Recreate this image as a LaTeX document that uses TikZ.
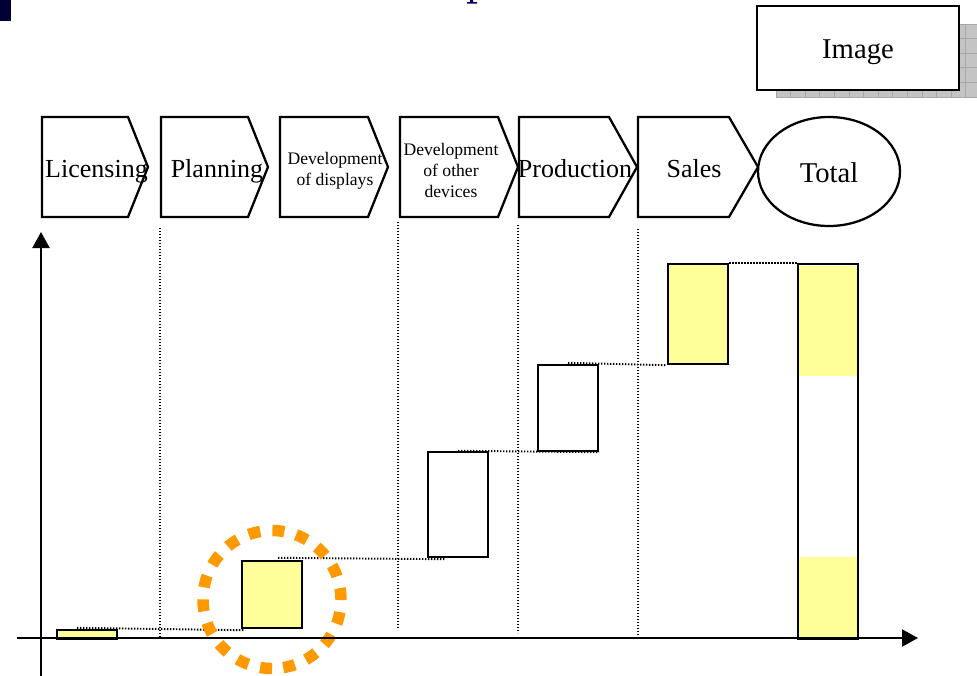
\documentclass[tikz,border=0pt]{standalone}
\usepackage{fontspec}
\setmainfont{Liberation Serif}
\usetikzlibrary{arrows.meta,backgrounds}

\definecolor{navy}{HTML}{000038}
\definecolor{barfill}{HTML}{FFFF99}
\definecolor{ringorange}{HTML}{FF9900}
\definecolor{shadowgray}{HTML}{C4C4C4}
\definecolor{shadowline}{HTML}{A8A8A8}

\tikzset{
  stageline/.style={draw=black, line width=1.7pt, line join=miter, fill=white},
  bigtext/.style={inner sep=0pt, anchor=base, font=\fontsize{19.5pt}{22pt}\selectfont},
  smalltext/.style={inner sep=0pt, align=center, font=\fontsize{13.2pt}{15.75pt}\selectfont},
  bar/.style={draw=black, line width=1.8pt, inner sep=0pt, minimum width=45pt},
  guide/.style={black, line width=1.45pt, dash pattern=on 1.1pt off 1.15pt},
  axis/.style={black, line width=1.7pt, -{Triangle[length=12pt,width=12.75pt]}},
  ring/.style={ringorange, line width=8.6pt, dash pattern=on 9pt off 9.1pt},
}

% one stage of the process row: left edge, corner, tip
\newcommand{\stagechevron}[3]{%
  \draw[stageline] (#1,117) -- (#2,117) -- (#3,167) -- (#2,217) -- (#1,217) -- cycle;}

\begin{document}
\begin{tikzpicture}[x=0.75pt,y=-0.75pt]
\useasboundingbox (0,0) rectangle (977,675);

% corner mark and the foot of the heading
\fill[navy] (0,0) rectangle (11,21);
\fill[navy!80!blue] (470,0) rectangle (473,3) (467,2.2) rectangle (477,3.6);

% image placeholder with its chequered shadow
\fill[shadowgray] (776,24) rectangle (977,98);
\begin{scope}
  \clip (776,24) rectangle (977,98);
  \foreach \gx in {0,...,14} \draw[shadowline, line width=0.5pt] (776+\gx*14.6,24) -- (776+\gx*14.6,98);
  \foreach \gy in {0,...,5} \draw[shadowline, line width=0.5pt] (776,24+\gy*14.6) -- (977,24+\gy*14.6);
\end{scope}
\node[draw=black, line width=1.7pt, fill=white, minimum width=151.5pt, minimum height=63pt,
      inner sep=0pt] (img) at (858,48) {};
\node[inner sep=0pt, anchor=base, font=\fontsize{21.5pt}{24pt}\selectfont] (imgtext) at (858,58.5) {Image};

% process row
\stagechevron{42}{128}{148}
\stagechevron{161}{248}{268}
\stagechevron{280}{368}{388}
\stagechevron{400}{498}{518}
\stagechevron{519}{609}{637}
\stagechevron{638}{729}{758}
\node[bigtext] (lic) at (96.5,177) {Licensing};
\node[bigtext] (pln) at (217,177) {Planning};
\node[smalltext] (dsp) at (335,170.5) {Development\\of displays};
\node[smalltext] (oth) at (451,170.5) {Development\\of other\\devices};
\node[bigtext] (prd) at (575,177) {Production};
\node[bigtext] (sal) at (694,177) {Sales};
\draw[line width=1.7pt, fill=white] (829,171.5) ellipse [x radius=71, y radius=54.5];
\node[bigtext, font=\fontsize{21.5pt}{24pt}\selectfont] (tot) at (829,182) {Total};

% stage separators
\draw[guide] (160,228) -- (160,637);
\draw[guide] (398,222) -- (398,630);
\draw[guide] (518,225) -- (518,633);
\draw[guide] (638,229) -- (638,637);

% highlight ring
\draw[ring] (272,599.5) ++(90:69) arc[start angle=90, end angle=450, radius=69];

% cost bars
\node[bar, fill=barfill, minimum height=6.75pt] (blic) at (87,634.5) {};
\node[bar, fill=barfill, minimum height=50.25pt] (bpln) at (272,594.5) {};
\node[bar, fill=white, minimum height=78.75pt] (bdsp) at (458,504.5) {};
\node[bar, fill=white, minimum height=64.5pt] (bprd) at (568,408) {};
\node[bar, fill=barfill, minimum height=75pt] (bsal) at (698,314) {};
\fill[white] (798,264) rectangle (858,639);
\fill[barfill] (799,266) rectangle (857,376);
\fill[barfill] (799,557) rectangle (857,639);
\node[bar, minimum height=281.25pt] (btot) at (828,451.5) {};

% running totals carried from bar to bar
\begin{pgfonlayer}{background}
  \draw[guide] ([xshift=-7.5pt,yshift=0.75pt]blic.north) -- ([xshift=2.25pt,yshift=-0.75pt]bpln.south west);
  \draw[guide] ([xshift=4.5pt,yshift=1.5pt]bpln.north) -- ([xshift=14.25pt,yshift=-0.75pt]bdsp.south west);
  \draw[guide] (bdsp.north) -- (bprd.south east);
  \draw[guide] ([yshift=0.75pt]bprd.north) -- (bsal.south west);
  \draw[guide] (bsal.north east) -- (btot.north west);
\end{pgfonlayer}

% axes
\coordinate (yfoot) at (41,680);
\coordinate (ytop) at (41,232);
\coordinate (xfoot) at (17,638);
\coordinate (xend) at (918,638);
\draw[axis] (yfoot) -- (ytop);
\draw[axis] (xfoot) -- (xend);
\end{tikzpicture}
\end{document}
